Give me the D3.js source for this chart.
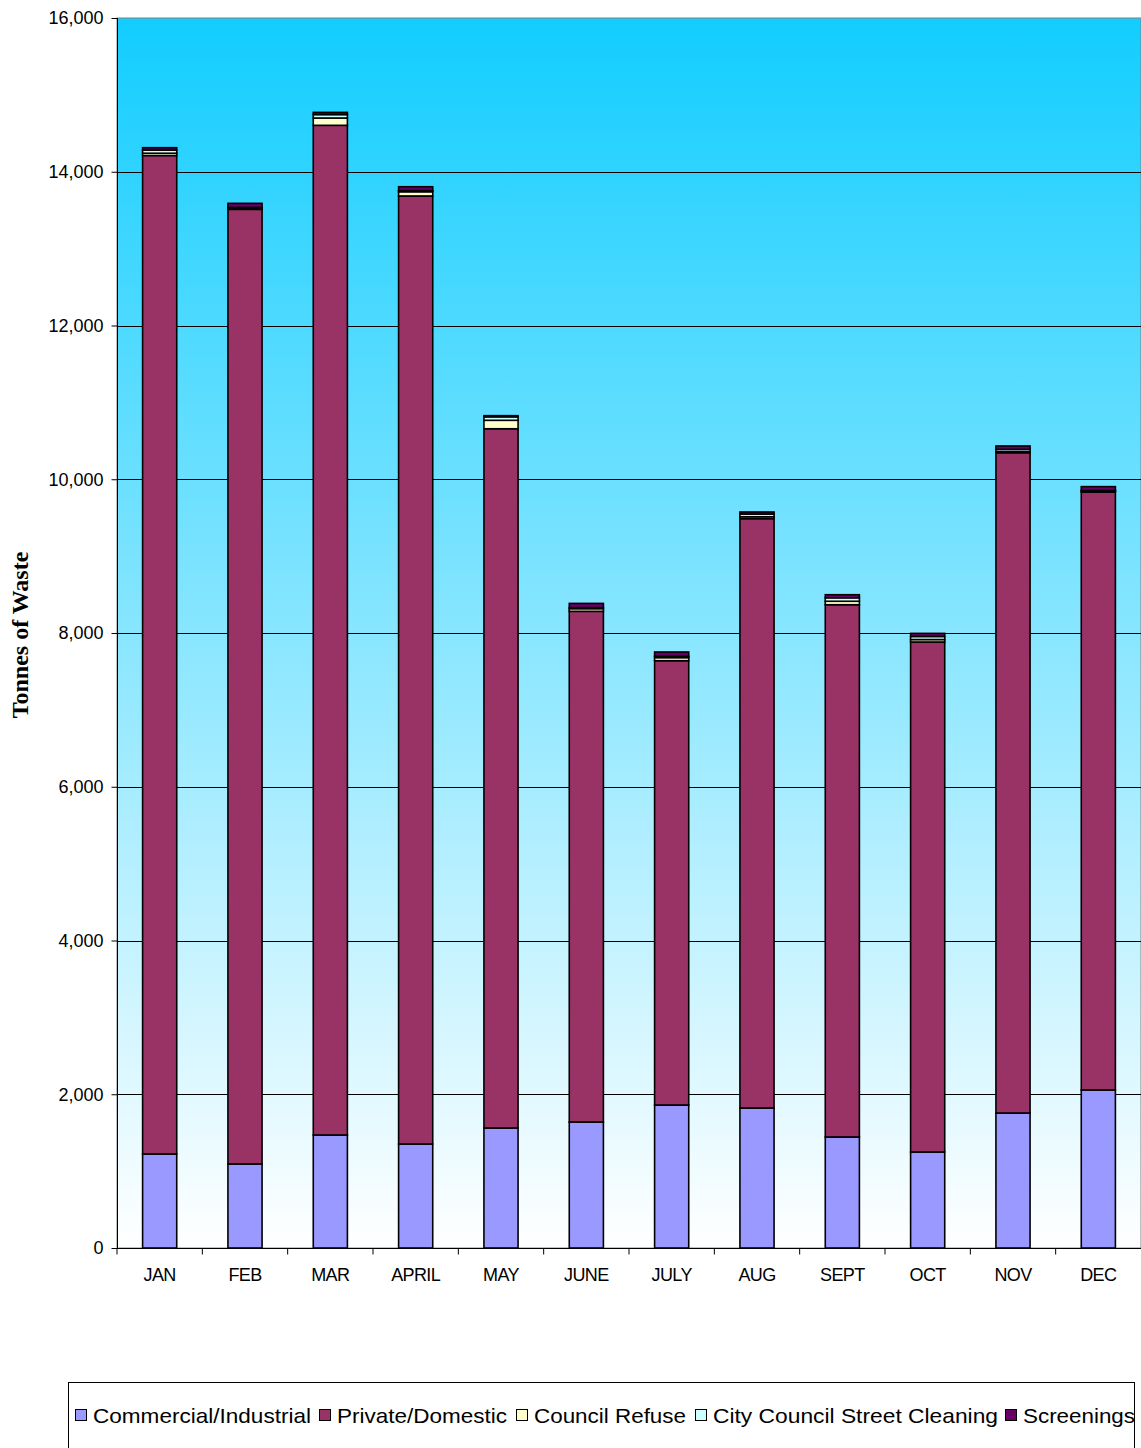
<!DOCTYPE html>
<html>
<head>
<meta charset="utf-8">
<script src="https://cdn.jsdelivr.net/npm/d3@7"></script>
<style>
  html, body { margin: 0; padding: 0; background: #fff; }
  svg { display: block; }
</style>
</head>
<body>
<svg id="chart" width="1141" height="1448"></svg>
<script>
const months = ["JAN","FEB","MAR","APRIL","MAY","JUNE","JULY","AUG","SEPT","OCT","NOV","DEC"];
const seriesNames = ["Commercial/Industrial","Private/Domestic","Council Refuse","City Council Street Cleaning","Screenings"];
const commercial = [1223, 1093, 1470, 1353, 1561, 1639, 1860, 1821, 1444, 1249, 1756, 2055];
const privateDomestic = [12988, 12418, 13134, 12332, 9096, 6643, 5780, 7666, 6924, 6634, 8589, 7779];
const councilRefuse = [30, 15, 95, 55, 110, 35, 40, 25, 45, 32, 13, 10];
const streetCleaning = [40, 10, 45, 15, 45, 13, 18, 35, 45, 40, 30, 10];
const screenings = [32, 53, 28, 50, 15, 55, 55, 27, 40, 40, 45, 50];
const yTicks = [0, 2000, 4000, 6000, 8000, 10000, 12000, 14000, 16000];
const colors = ["#9999FF", "#993366", "#FFFFCC", "#CCFFFF", "#660066"];

const seriesValues = [commercial, privateDomestic, councilRefuse, streetCleaning, screenings];
const rows = months.map((m, i) => {
  const r = { month: m };
  seriesNames.forEach((s, k) => r[s] = seriesValues[k][i]);
  return r;
});
const stacked = d3.stack().keys(seriesNames)(rows);

const svg = d3.select("#chart");
const pLeft = 117, pRight = 1141, pTop = 18, pBottom = 1248;

const x = d3.scaleBand().domain(months).range([pLeft, pRight]).paddingInner(0.6).paddingOuter(0.3);
const xBand = d3.scaleBand().domain(months).range([pLeft, pRight]);
const y = d3.scaleLinear().domain([0, 16000]).range([pBottom, pTop]);

// background gradient
const defs = svg.append("defs");
const grad = defs.append("linearGradient").attr("id", "bg").attr("x1", 0).attr("y1", 0).attr("x2", 0).attr("y2", 1);
grad.append("stop").attr("offset", "0%").attr("stop-color", "#12CDFF");
grad.append("stop").attr("offset", "100%").attr("stop-color", "#FFFFFF");

svg.append("rect").attr("x", pLeft).attr("y", pTop).attr("width", pRight - pLeft).attr("height", pBottom - pTop)
  .attr("fill", "url(#bg)").attr("stroke", "#808080").attr("stroke-width", 1);

// gridlines
svg.append("g").selectAll("line").data(yTicks.filter(t => t > 0 && t < 16000)).join("line")
  .attr("x1", pLeft).attr("x2", pRight)
  .attr("y1", d => Math.round(y(d)) + 0.5).attr("y2", d => Math.round(y(d)) + 0.5)
  .attr("stroke", "#000").attr("stroke-width", 1);

// bars
svg.append("g").selectAll("g").data(stacked).join("g")
  .attr("fill", (d, i) => colors[i])
  .selectAll("rect").data(d => d).join("rect")
  .attr("x", d => x(d.data.month))
  .attr("width", x.bandwidth())
  .attr("y", d => y(d[1]))
  .attr("height", d => Math.max(0, y(d[0]) - y(d[1])))
  .attr("stroke", "#000").attr("stroke-width", 1.6);

// y axis
const yAxis = d3.axisLeft(y).tickValues(yTicks).tickFormat(d3.format(",")).tickSize(6).tickPadding(8);
const gy = svg.append("g").attr("transform", `translate(${pLeft + 0.5},0)`).call(yAxis);
gy.select(".domain").attr("stroke", "#000").attr("d", `M0,${pTop}V${pBottom}`);
gy.selectAll(".tick line").attr("stroke", "#000");
gy.selectAll("text").attr("font-family", "Liberation Sans, Arial, sans-serif").attr("font-size", 18).attr("fill", "#000");

// x axis
const gx = svg.append("g").attr("transform", `translate(0,${pBottom + 0.5})`);
gx.append("line").attr("x1", pLeft).attr("x2", pRight).attr("stroke", "#000");
gx.selectAll("line.tk").data(months).join("line").attr("class", "tk")
  .attr("x1", d => xBand(d)).attr("x2", d => xBand(d)).attr("y1", 0).attr("y2", 6).attr("stroke", "#000");
gx.selectAll("text").data(months).join("text")
  .attr("x", d => xBand(d) + xBand.bandwidth() / 2)
  .attr("y", 32)
  .attr("text-anchor", "middle")
  .attr("font-family", "Liberation Sans, Arial, sans-serif")
  .attr("font-size", 18)
  .attr("letter-spacing", -0.6)
  .text(d => d);

// y title
svg.append("text")
  .attr("transform", "translate(28,635) rotate(-90)")
  .attr("text-anchor", "middle")
  .attr("font-family", "Liberation Serif, Times New Roman, serif")
  .attr("font-weight", "bold")
  .attr("font-size", 24)
  .text("Tonnes of Waste");

// legend
svg.append("rect").attr("x", 68.5).attr("y", 1382.5).attr("width", 1066).attr("height", 80)
  .attr("fill", "#fff").attr("stroke", "#000");
const legendX = [75, 319, 516, 695, 1005];
const legendW = [218, 170, 152, 285, 112];
const lg = svg.append("g").selectAll("g").data(seriesNames).join("g")
  .attr("transform", (d, i) => `translate(${legendX[i]},0)`);
lg.append("rect").attr("x", 0.5).attr("y", 1409.5).attr("width", 11).attr("height", 11)
  .attr("fill", (d, i) => colors[i]).attr("stroke", "#000");
lg.append("text").attr("x", 18).attr("y", 1423)
  .attr("font-family", "Liberation Sans, Arial, sans-serif")
  .attr("font-size", 21)
  .attr("textLength", (d, i) => legendW[i])
  .attr("lengthAdjust", "spacingAndGlyphs")
  .text(d => d);
</script>
</body>
</html>
